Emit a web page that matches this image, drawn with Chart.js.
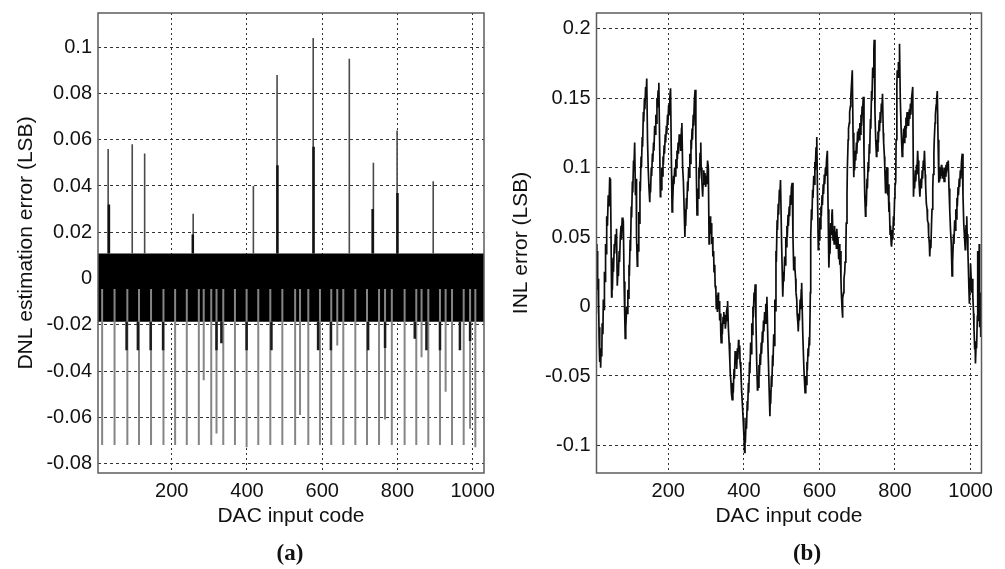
<!DOCTYPE html>
<html lang="en">

<head>
    <meta charset="UTF-8" />
    <title>DNL / INL estimation error</title>
    <script src="https://cdn.jsdelivr.net/npm/chart.js"></script>
    <style>
        * {
            margin: 0;
            padding: 0;
            box-sizing: border-box;
        }

        body {
            width: 1005px;
            height: 569px;
            background: #ffffff;
            position: relative;
            overflow: hidden;
        }

        .panel {
            position: absolute;
            top: 0;
            height: 569px;
        }

        #left {
            left: 0;
            width: 502px;
        }

        #right {
            left: 502px;
            width: 503px;
        }

        .caption {
            position: absolute;
            top: 541px;
            font: bold 23px "Liberation Serif", "Times New Roman", serif;
            line-height: 23px;
            color: #111;
            transform: translateX(-50%);
        }
    </style>
</head>

<body>
    <div class="panel" id="left"><canvas id="dnlChart"></canvas></div>
    <div class="panel" id="right"><canvas id="inlChart"></canvas></div>
    <div class="caption" style="left: 290px">(a)</div>
    <div class="caption" style="left: 807px">(b)</div>

    <script>
        // shared x axis
        const codeTicks = [200, 400, 600, 800, 1000];

        // (a) DNL estimation error
        const dnlRange = [4, 1030];
        const dnlTicks = [0.1, 0.08, 0.06, 0.04, 0.02, 0, -0.02, -0.04, -0.06, -0.08];
        const dnlTickLabels = ["0.1", "0.08", "0.06", "0.04", "0.02", "0", "-0.02", "-0.04", "-0.06", "-0.08"];
        const dnlBand = [-0.0187, 0.0108]; // dense part of the trace: low / high
        const downStart = -0.0045;

        const upCodes = [31, 95, 128, 257, 417, 480, 576, 672, 736, 799, 895];
        const upPeaks = [0.056, 0.058, 0.054, 0.028, 0.040, 0.088, 0.104, 0.095, 0.050, 0.064, 0.042];
        const upStubCodes = [33, 256, 481, 577, 734, 800];
        const upStubPeaks = [0.032, 0.019, 0.049, 0.057, 0.030, 0.037];

        const downCodes = [15, 48, 82, 113, 145, 178, 209, 240, 272, 305, 337, 368, 399, 430, 462, 494,
            528, 563, 594, 624, 656, 688, 719, 751, 785, 819, 850, 882, 913, 945, 976, 1007,
            285, 319, 541, 640, 767, 864, 928, 993];
        const downEnds = [-0.072, -0.072, -0.072, -0.072, -0.072, -0.072, -0.072, -0.072, -0.072, -0.072, -0.072, -0.072, -0.073, -0.072, -0.072, -0.072,
            -0.072, -0.072, -0.072, -0.072, -0.072, -0.072, -0.072, -0.072, -0.072, -0.072, -0.072, -0.072, -0.072, -0.072, -0.072, -0.073,
            -0.044, -0.067, -0.059, -0.029, -0.061, -0.034, -0.049, -0.065];
        const downStubCodes = [80, 110, 144, 177, 319, 332, 399, 465, 589, 623, 722, 767, 846, 877, 913, 966, 993];
        const downStubEnds = [-0.031, -0.031, -0.031, -0.031, -0.031, -0.028, -0.031, -0.031, -0.031, -0.031, -0.031, -0.030, -0.026, -0.031, -0.031, -0.031, -0.027];

        // (b) INL error
        const inlRange = [10, 1029];
        const inlTicks = [0.2, 0.15, 0.1, 0.05, 0, -0.05, -0.1];
        const inlTickLabels = ["0.2", "0.15", "0.1", "0.05", "0", "-0.05", "-0.1"];
        const inlTrace = [
            [10, 0.045], [11, 0.030], [12, 0.040], [13, 0.012], [14, 0.020], [15, -0.005], [16, 0.005], [17, -0.025], [18, -0.015], [19, -0.040], [20, -0.030], [21, -0.044],
            [22, -0.030], [24, -0.036], [25, -0.012], [27, -0.020], [28, 0.005], [30, -0.002], [31, 0.025], [33, 0.018], [34, 0.045], [36, 0.038], [37, 0.065], [39, 0.058], [41, 0.080], [43, 0.072], [45, 0.093], [46, 0.084], [47, 0.092],
            [50, 0.007], [51, 0.020], [52, 0.012], [54, 0.035], [55, 0.025], [57, 0.045], [58, 0.038], [60, 0.052], [62, 0.045], [63, 0.056],
            [65, 0.015], [67, 0.028], [68, 0.022], [70, 0.040], [71, 0.032], [73, 0.050], [75, 0.058], [76, 0.048], [78, 0.064], [80, 0.058], [81, 0.062],
            [83, 0.018], [85, -0.010], [86, -0.023],
            [87, -0.008], [88, -0.015], [90, 0.000], [91, -0.005], [93, 0.012], [94, 0.006], [96, 0.030], [97, 0.022], [99, 0.048], [100, 0.040], [102, 0.072], [103, 0.064], [105, 0.090], [106, 0.082], [108, 0.105], [109, 0.098], [111, 0.118],
            [113, 0.080], [115, 0.092], [116, 0.050], [118, 0.029],
            [119, 0.045], [120, 0.040], [122, 0.068], [123, 0.060], [125, 0.090], [126, 0.083], [128, 0.108], [129, 0.100], [131, 0.122], [132, 0.115], [134, 0.140], [135, 0.133], [137, 0.150], [138, 0.142], [140, 0.158], [141, 0.150], [143, 0.164],
            [145, 0.120], [147, 0.098], [149, 0.085], [151, 0.075],
            [152, 0.088], [153, 0.082], [155, 0.100], [156, 0.094], [158, 0.110], [159, 0.104], [161, 0.118], [162, 0.112], [164, 0.130], [165, 0.124], [167, 0.138], [168, 0.132], [170, 0.150], [171, 0.143], [173, 0.155], [175, 0.161],
            [177, 0.120], [179, 0.079],
            [180, 0.090], [181, 0.084], [183, 0.100], [184, 0.094], [186, 0.108], [187, 0.102], [189, 0.116], [190, 0.110], [192, 0.124], [193, 0.118], [195, 0.130], [196, 0.124], [198, 0.138], [199, 0.132], [201, 0.145], [202, 0.138], [204, 0.150], [206, 0.157],
            [208, 0.110], [210, 0.068],
            [211, 0.080], [212, 0.074], [214, 0.094], [215, 0.088], [217, 0.100], [218, 0.094], [220, 0.106], [221, 0.100], [223, 0.112], [224, 0.106], [226, 0.118], [227, 0.110], [229, 0.124], [230, 0.116], [232, 0.120], [233, 0.112], [235, 0.128], [236, 0.132],
            [238, 0.100], [240, 0.090], [242, 0.070], [244, 0.050],
            [245, 0.065], [246, 0.058], [248, 0.078], [249, 0.070], [251, 0.090], [252, 0.083], [254, 0.100], [255, 0.093], [257, 0.110], [258, 0.103], [260, 0.120], [261, 0.113], [263, 0.128], [264, 0.120], [266, 0.138], [267, 0.130], [269, 0.148], [271, 0.156],
            [273, 0.120], [276, 0.066],
            [278, 0.085], [279, 0.078], [281, 0.100], [282, 0.092], [284, 0.110], [286, 0.118], [287, 0.100], [289, 0.090], [291, 0.079], [292, 0.088], [294, 0.098], [295, 0.090], [297, 0.096], [299, 0.086], [301, 0.094], [302, 0.088], [304, 0.105], [306, 0.100],
            [308, 0.045], [309, 0.055], [311, 0.065], [312, 0.052], [314, 0.060], [315, 0.045], [317, 0.050], [318, 0.036], [320, 0.040], [321, 0.025], [323, 0.030], [324, 0.015], [326, 0.012], [327, -0.002],
            [329, 0.008], [330, -0.004], [332, 0.010], [333, -0.002], [335, 0.004], [336, -0.010], [338, -0.005], [339, -0.020], [340, -0.026], [342, -0.012], [343, -0.020], [345, -0.008],
            [347, -0.004], [348, -0.012], [350, -0.006], [351, -0.016], [353, -0.010], [354, -0.004], [356, 0.000], [357, 0.004], [359, -0.015], [361, -0.026],
            [363, -0.040], [364, -0.048], [366, -0.055], [367, -0.062], [369, -0.067],
            [371, -0.055], [372, -0.062], [374, -0.045], [375, -0.052], [377, -0.032], [378, -0.040], [380, -0.035], [381, -0.045], [383, -0.030], [384, -0.038], [386, -0.024], [387, -0.032], [389, -0.028], [390, -0.040], [392, -0.045],
            [394, -0.060], [396, -0.070], [398, -0.080], [400, -0.092], [402, -0.105],
            [403, -0.090], [404, -0.098], [406, -0.080], [407, -0.088], [409, -0.068], [410, -0.075], [412, -0.055], [413, -0.062], [415, -0.040], [416, -0.048], [418, -0.026], [419, -0.034], [421, -0.012], [422, -0.020], [424, 0.000], [425, -0.008], [427, 0.010], [428, 0.004], [430, 0.016],
            [432, -0.010], [434, -0.040], [436, -0.060],
            [437, -0.050], [438, -0.058], [440, -0.042], [441, -0.050], [443, -0.034], [444, -0.042], [446, -0.026], [447, -0.034], [449, -0.018], [450, -0.026], [452, -0.010], [453, -0.018], [455, -0.004], [456, -0.012], [458, 0.002], [459, -0.006], [461, 0.007],
            [464, -0.030], [467, -0.060], [469, -0.079],
            [470, -0.062], [471, -0.070], [473, -0.050], [474, -0.058], [476, -0.035], [477, -0.043], [479, -0.020], [480, -0.028], [482, 0.005], [483, -0.003], [485, 0.040], [486, 0.032], [488, 0.062], [489, 0.055], [491, 0.074], [492, 0.066], [494, 0.084], [495, 0.078], [497, 0.091],
            [500, 0.045], [503, 0.007],
            [505, 0.025], [506, 0.018], [508, 0.036], [509, 0.030], [511, 0.050], [512, 0.043], [514, 0.058], [515, 0.050], [517, 0.066], [518, 0.058], [520, 0.072], [521, 0.065], [523, 0.080], [524, 0.073], [526, 0.086], [528, 0.089],
            [530, 0.050], [532, 0.026],
            [534, 0.036], [535, 0.028], [537, 0.020], [538, 0.010], [540, 0.005], [541, -0.005], [543, -0.012], [544, -0.018], [546, -0.005], [547, -0.010], [549, 0.005], [550, -0.002], [552, 0.012], [553, 0.017],
            [556, -0.020], [559, -0.045], [562, -0.062],
            [564, -0.050], [565, -0.056], [567, -0.040], [568, -0.046], [570, -0.030], [571, -0.036], [573, -0.022],
            [574, -0.028], [576, 0.010], [577, 0.050], [579, 0.070], [580, 0.062], [582, 0.084], [583, 0.078], [585, 0.094], [586, 0.088], [588, 0.104], [589, 0.098], [591, 0.114], [593, 0.122],
            [595, 0.080], [597, 0.041],
            [598, 0.055], [599, 0.048], [601, 0.064], [602, 0.056], [604, 0.072], [605, 0.065], [607, 0.080], [608, 0.073], [610, 0.088], [611, 0.081], [613, 0.095], [614, 0.088], [616, 0.100], [617, 0.094], [619, 0.106], [621, 0.112],
            [623, 0.070], [625, 0.028],
            [627, 0.045], [628, 0.038], [630, 0.060], [631, 0.052], [633, 0.066], [634, 0.070], [636, 0.048], [637, 0.055], [639, 0.045], [640, 0.058], [642, 0.046], [643, 0.054], [645, 0.042], [646, 0.056], [648, 0.044], [649, 0.050], [651, 0.034], [652, 0.045], [654, 0.030], [655, 0.040], [657, 0.020], [658, 0.010], [660, -0.002], [661, -0.008],
            [662, 0.006], [664, 0.010], [665, 0.020], [667, 0.025], [668, 0.032], [670, 0.040], [671, 0.060], [673, 0.080], [674, 0.100], [676, 0.120], [677, 0.128], [679, 0.132], [680, 0.140], [682, 0.144], [683, 0.150], [685, 0.160], [687, 0.170],
            [689, 0.125], [691, 0.093],
            [692, 0.105], [693, 0.098], [695, 0.112], [696, 0.105], [698, 0.118], [699, 0.110], [701, 0.126], [702, 0.118], [704, 0.128], [705, 0.120], [707, 0.132], [708, 0.124], [710, 0.138], [711, 0.130], [713, 0.144], [714, 0.138], [716, 0.151],
            [718, 0.110], [720, 0.080], [722, 0.065],
            [723, 0.080], [724, 0.072], [726, 0.092], [727, 0.085], [729, 0.104], [730, 0.097], [732, 0.117], [733, 0.110], [735, 0.135], [736, 0.128], [738, 0.155], [739, 0.148], [741, 0.172], [742, 0.165], [744, 0.184], [745, 0.192],
            [747, 0.140], [749, 0.120], [751, 0.108],
            [752, 0.120], [753, 0.112], [755, 0.126], [756, 0.118], [758, 0.134], [759, 0.126], [761, 0.140], [762, 0.132], [764, 0.146], [765, 0.140], [767, 0.153],
            [769, 0.125], [770, 0.118], [772, 0.108], [773, 0.100], [775, 0.082], [776, 0.090], [778, 0.098], [779, 0.100], [781, 0.080], [782, 0.088], [784, 0.068], [785, 0.075], [787, 0.052], [788, 0.058], [790, 0.045], [791, 0.043],
            [793, 0.055], [794, 0.048], [796, 0.065], [797, 0.058], [799, 0.078], [800, 0.086], [802, 0.090], [803, 0.120], [805, 0.160], [806, 0.170], [808, 0.165], [809, 0.176], [811, 0.172], [812, 0.189],
            [814, 0.150], [816, 0.130], [819, 0.108],
            [820, 0.120], [821, 0.112], [823, 0.128], [824, 0.118], [826, 0.130], [827, 0.122], [829, 0.136], [830, 0.128], [832, 0.140], [833, 0.130], [835, 0.138], [836, 0.130], [838, 0.142], [839, 0.135], [841, 0.146], [842, 0.138], [844, 0.150], [847, 0.158],
            [849, 0.079],
            [851, 0.092], [852, 0.085], [854, 0.098], [855, 0.090], [857, 0.102], [858, 0.095], [860, 0.112], [861, 0.105], [863, 0.095], [864, 0.088], [866, 0.079], [867, 0.086], [869, 0.092], [870, 0.085], [872, 0.098], [873, 0.092], [875, 0.105], [876, 0.098], [878, 0.112], [880, 0.095], [881, 0.088], [883, 0.074], [885, 0.070], [886, 0.062], [888, 0.060], [889, 0.052], [891, 0.045], [892, 0.036],
            [894, 0.048], [895, 0.042], [897, 0.062], [898, 0.070], [900, 0.085], [901, 0.095], [903, 0.110], [904, 0.120], [906, 0.132], [907, 0.138], [909, 0.145], [910, 0.148], [912, 0.155],
            [914, 0.120], [916, 0.089],
            [917, 0.098], [918, 0.090], [920, 0.100], [921, 0.092], [923, 0.102], [924, 0.094], [926, 0.100], [927, 0.092], [929, 0.098], [930, 0.090], [932, 0.100], [933, 0.094], [935, 0.102], [936, 0.096], [938, 0.104], [939, 0.098], [941, 0.105],
            [943, 0.085], [945, 0.069], [947, 0.055], [949, 0.045], [951, 0.022],
            [952, 0.040], [953, 0.032], [955, 0.052], [956, 0.045], [958, 0.062], [959, 0.055], [961, 0.070], [962, 0.063], [964, 0.078], [965, 0.072], [967, 0.086], [968, 0.080], [970, 0.092], [971, 0.086], [973, 0.098], [974, 0.092], [976, 0.104], [978, 0.110],
            [980, 0.080], [982, 0.060], [984, 0.050], [986, 0.041],
            [987, 0.050], [988, 0.058], [990, 0.065], [991, 0.052], [993, 0.040], [994, 0.030], [996, 0.010], [997, 0.002], [999, 0.020], [1000, 0.031], [1002, 0.018], [1003, 0.010], [1005, 0.020], [1006, 0.008], [1008, -0.005], [1009, -0.015], [1011, -0.031], [1012, -0.025], [1013, -0.041], [1015, -0.025], [1016, -0.030], [1018, -0.007], [1019, 0.040], [1020, -0.010], [1022, -0.002], [1023, 0.045], [1024, -0.015], [1026, 0.010], [1027, -0.022], [1029, 0.000]
        ];

        Chart.defaults.font.family = '"Liberation Sans", Arial, sans-serif';
        Chart.defaults.color = "#111";
        Chart.defaults.animation = false;

        // vertical stems, one gap between each
        function stems(codes, ends, base) {
            const pts = [];
            codes.forEach((c, i) => {
                pts.push({ x: c, y: base }, { x: c, y: ends[i] }, { x: c, y: null });
            });
            return pts;
        }

        const framePlugin = {
            id: "framePlugin",
            afterDatasetsDraw(chart) {
                const { ctx, chartArea: a } = chart;
                ctx.save();
                ctx.strokeStyle = "#5c5c5c";
                ctx.lineWidth = 1.5;
                ctx.strokeRect(a.left, a.top, a.right - a.left, a.bottom - a.top);
                ctx.restore();
            }
        };

        function panelOptions(cfg) {
            return {
                responsive: true,
                maintainAspectRatio: false,
                layout: { padding: { left: 0, right: cfg.padRight, top: 13, bottom: 30 } },
                plugins: { legend: { display: false }, tooltip: { enabled: false } },
                scales: {
                    x: {
                        type: "linear",
                        min: cfg.xRange[0],
                        max: cfg.xRange[1],
                        offset: false,
                        afterBuildTicks: (s) => { s.ticks = codeTicks.map((v) => ({ value: v })); },
                        afterFit: (s) => { s.height = 66; s.paddingLeft = 0; s.paddingRight = 0; },
                        grid: { color: "#333", lineWidth: 1, drawTicks: false },
                        border: { display: false, dash: [2, 3] },
                        ticks: { padding: 6, maxRotation: 0, autoSkip: false, font: { size: 20 }, callback: (v) => String(v) },
                        title: { display: true, text: "DAC input code", font: { size: 21 }, padding: { top: 0, bottom: 10 } }
                    },
                    y: {
                        min: cfg.yRange[0],
                        max: cfg.yRange[1],
                        afterBuildTicks: (s) => { s.ticks = cfg.yTicks.map((v) => ({ value: v })); },
                        afterFit: (s) => { s.width = cfg.yWidth; s.paddingTop = 0; s.paddingBottom = 0; },
                        grid: { color: "#333", lineWidth: 1, drawTicks: false },
                        border: { display: false, dash: [3, 3] },
                        ticks: { padding: 6, font: { size: 20 }, callback: (v) => cfg.yLabels[cfg.yTicks.indexOf(v)] },
                        title: { display: true, text: cfg.yTitle, font: { size: 21 }, padding: { top: cfg.titleGap, bottom: 0 } }
                    }
                }
            };
        }

        const stemStyle = { pointRadius: 0, spanGaps: false, borderCapStyle: "butt", fill: false };

        new Chart(document.getElementById("dnlChart"), {
            type: "line",
            data: {
                datasets: [
                    { ...stemStyle, data: stems(upStubCodes, upStubPeaks, dnlBand[1]), borderColor: "#111", borderWidth: 2.5 },
                    { ...stemStyle, data: stems(upCodes, upPeaks, dnlBand[1]), borderColor: "#4a4a4a", borderWidth: 1.6 },
                    { ...stemStyle, data: stems(downStubCodes, downStubEnds, dnlBand[0]), borderColor: "#1a1a1a", borderWidth: 2.5 },
                    { ...stemStyle, data: stems(downCodes, downEnds, downStart), borderColor: "#858585", borderWidth: 2 },
                    {
                        data: [{ x: dnlRange[0], y: dnlBand[1] }, { x: dnlRange[1], y: dnlBand[1] }],
                        pointRadius: 0,
                        borderWidth: 0,
                        borderColor: "#000",
                        backgroundColor: "#000",
                        fill: { value: dnlBand[0] }
                    }
                ]
            },
            options: panelOptions({
                xRange: dnlRange,
                yRange: [-0.0841, 0.1148],
                yTicks: dnlTicks,
                yLabels: dnlTickLabels,
                yTitle: "DNL estimation error (LSB)",
                yWidth: 98,
                titleGap: 13.4,
                padRight: 18
            }),
            plugins: [framePlugin]
        });

        new Chart(document.getElementById("inlChart"), {
            type: "line",
            data: {
                datasets: [{
                    data: inlTrace.map(([x, y]) => ({ x, y })),
                    borderColor: "#0d0d0d",
                    borderWidth: 1.7,
                    pointRadius: 0,
                    tension: 0,
                    fill: false
                }]
            },
            options: panelOptions({
                xRange: inlRange,
                yRange: [-0.1198, 0.2112],
                yTicks: inlTicks,
                yLabels: inlTickLabels,
                yTitle: "INL error (LSB)",
                yWidth: 94.5,
                titleGap: 6.4,
                padRight: 23.5
            }),
            plugins: [framePlugin]
        });
    </script>

</body>

</html>
